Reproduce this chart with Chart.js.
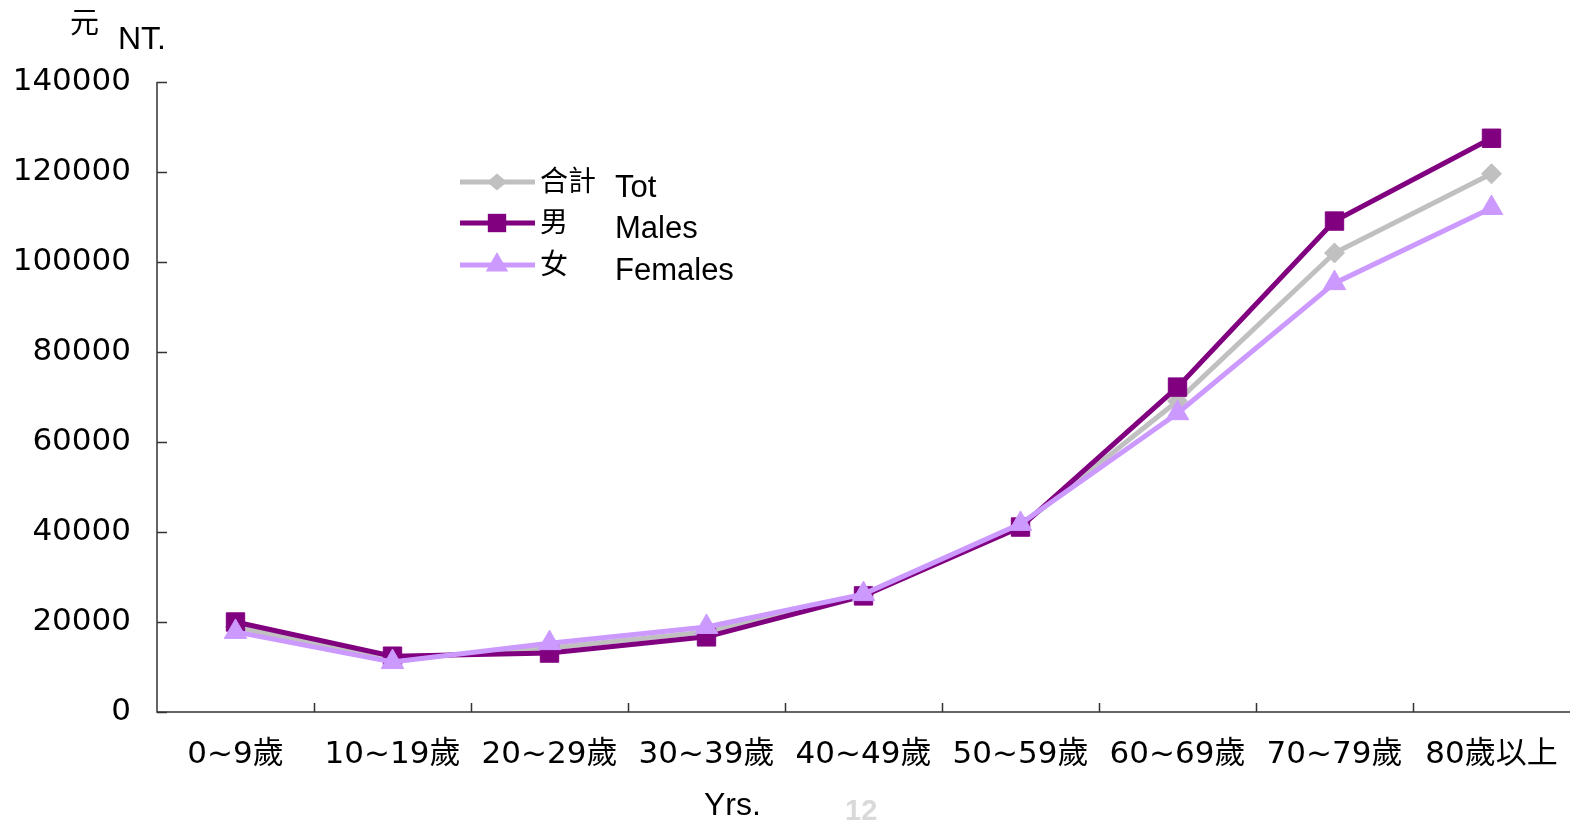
<!DOCTYPE html>
<html>
<head>
<meta charset="utf-8">
<script src="https://cdn.jsdelivr.net/npm/chart.js@4/dist/chart.umd.min.js"></script>
<style>
  html, body { margin: 0; padding: 0; background: #ffffff; overflow: hidden; }
  #wrap { width: 1570px; height: 820px; }
  #c { display: block; }
</style>
</head>
<body>
<div id="wrap"><canvas id="c" width="1570" height="820"></canvas></div>
<script>
// Age groups on the x axis
const categories = ['0~9歲', '10~19歲', '20~29歲', '30~39歲', '40~49歲', '50~59歲', '60~69歲', '70~79歲', '80歲以上'];

// Per-capita amount (NT$) by age group
const totalValues  = [18900, 11800, 14200, 17800, 26000, 41300, 69100, 102000, 119600];
const maleValues   = [20000, 12400, 13100, 16700, 25800, 41100, 72200, 109100, 127500];
const femaleValues = [17800, 11100, 15300, 18900, 26200, 41800, 66400, 95300, 112000];

// Y axis ticks
const yTicks = [0, 20000, 40000, 60000, 80000, 100000, 120000, 140000];

// Legend labels (Chinese / English)
const legendZh = ['合計', '男', '女'];
const legendEn = ['Tot', 'Males', 'Females'];

const COL_TOTAL = '#c0c0c0';
const COL_MALE = '#800080';
const COL_FEMALE = '#cc99ff';

const numFont = '31px "DejaVu Sans", "Noto Sans CJK TC", sans-serif';
const latinFont = '31px "Liberation Sans", Arial, sans-serif';

// Inward tick marks, axis lines, legend and free text
const decorPlugin = {
  id: 'decor',
  afterDraw(chart) {
    const ctx = chart.ctx;
    const xs = chart.scales.x;
    const ys = chart.scales.y;
    const area = chart.chartArea;
    ctx.save();

    // axis lines
    ctx.strokeStyle = '#333333';
    ctx.lineWidth = 1.5;
    ctx.beginPath();
    ctx.moveTo(area.left, ys.getPixelForValue(yTicks[yTicks.length - 1]));
    ctx.lineTo(area.left, area.bottom);
    ctx.lineTo(area.right, area.bottom);
    ctx.stroke();

    // y ticks pointing into the plot
    ctx.beginPath();
    yTicks.forEach(v => {
      const py = Math.round(ys.getPixelForValue(v)) + 0.5;
      ctx.moveTo(area.left, py);
      ctx.lineTo(area.left + 10, py);
    });
    // x ticks at category boundaries, pointing up
    for (let i = 1; i < categories.length; i++) {
      const px = Math.round((xs.getPixelForValue(i - 1) + xs.getPixelForValue(i)) / 2) + 0.5;
      ctx.moveTo(px, area.bottom);
      ctx.lineTo(px, area.bottom - 9);
    }
    ctx.stroke();

    // y tick labels
    ctx.fillStyle = '#000000';
    ctx.font = numFont;
    ctx.textAlign = 'right';
    ctx.textBaseline = 'middle';
    yTicks.forEach(v => {
      ctx.fillText(String(v), area.left - 26, ys.getPixelForValue(v));
    });

    // x category labels
    ctx.textAlign = 'center';
    ctx.textBaseline = 'middle';
    categories.forEach((c, i) => {
      ctx.fillText(c, xs.getPixelForValue(i), area.bottom + 43);
    });

    // unit labels
    ctx.textAlign = 'left';
    ctx.textBaseline = 'alphabetic';
    ctx.font = '29px "Noto Sans CJK TC", sans-serif';
    ctx.fillText('元', 70, 33);
    ctx.font = '32px "Liberation Sans", Arial, sans-serif';
    ctx.fillText('NT.', 118, 49);
    ctx.fillText('Yrs.', 704, 815);

    // page number
    ctx.fillStyle = '#d9d9d9';
    ctx.font = 'bold 29px "Liberation Sans", Arial, sans-serif';
    ctx.fillText('12', 845, 820);

    // legend
    const rows = [182, 223, 265];
    chart.data.datasets.forEach((ds, i) => {
      const y = rows[i];
      ctx.strokeStyle = ds.borderColor;
      ctx.lineWidth = 5;
      ctx.beginPath();
      ctx.moveTo(460, y);
      ctx.lineTo(535, y);
      ctx.stroke();
      ctx.fillStyle = ds.borderColor;
      const mx = 497, r = ds.pointRadius;
      ctx.beginPath();
      if (ds.pointStyle === 'rect') {
        const s = r * Math.SQRT1_2;
        ctx.rect(mx - s, y - s, 2 * s, 2 * s);
      } else if (ds.pointStyle === 'rectRot') {
        ctx.moveTo(mx - r, y); ctx.lineTo(mx, y - r * 0.85);
        ctx.lineTo(mx + r, y); ctx.lineTo(mx, y + r * 0.85);
        ctx.closePath();
      } else {
        const h = r * 0.866;
        ctx.moveTo(mx, y - r); ctx.lineTo(mx + h, y + r / 2);
        ctx.lineTo(mx - h, y + r / 2); ctx.closePath();
      }
      ctx.fill();

      ctx.fillStyle = '#000000';
      ctx.textBaseline = 'middle';
      ctx.font = '28px "Noto Sans CJK TC", sans-serif';
      ctx.fillText(legendZh[i], 540, y - 2);
      ctx.font = latinFont;
      ctx.fillText(legendEn[i], 615, y + 6);
    });

    ctx.restore();
  }
};

new Chart(document.getElementById('c'), {
  type: 'line',
  data: {
    labels: categories,
    datasets: [
      {
        label: '合計 Tot',
        data: totalValues,
        borderColor: COL_TOTAL,
        backgroundColor: COL_TOTAL,
        borderWidth: 5,
        pointStyle: 'rectRot',
        pointRadius: 10,
        pointBorderWidth: 1,
        tension: 0,
        clip: false,
        order: 3
      },
      {
        label: '男 Males',
        data: maleValues,
        borderColor: COL_MALE,
        backgroundColor: COL_MALE,
        borderWidth: 5,
        pointStyle: 'rect',
        pointRadius: 13,
        pointBorderWidth: 1,
        tension: 0,
        clip: false,
        order: 2
      },
      {
        label: '女 Females',
        data: femaleValues,
        borderColor: COL_FEMALE,
        backgroundColor: COL_FEMALE,
        borderWidth: 5,
        pointStyle: 'triangle',
        pointRadius: 13,
        pointBorderWidth: 1,
        tension: 0,
        clip: false,
        order: 1
      }
    ]
  },
  options: {
    responsive: false,
    animation: false,
    devicePixelRatio: 1,
    layout: { autoPadding: false, padding: { top: 82, left: 0, right: 0, bottom: 0 } },
    plugins: {
      legend: { display: false },
      tooltip: { enabled: false },
      title: { display: false }
    },
    scales: {
      x: {
        type: 'category',
        offset: true,
        grid: { display: false, drawTicks: false },
        border: { display: false },
        ticks: { display: false },
        afterFit(scale) { scale.height = 108; }
      },
      y: {
        min: 0,
        max: 140000,
        grid: { display: false, drawTicks: false },
        border: { display: false },
        ticks: { display: false, stepSize: 20000 },
        afterFit(scale) { scale.width = 157; }
      }
    }
  },
  plugins: [decorPlugin]
});
</script>
</body>
</html>
